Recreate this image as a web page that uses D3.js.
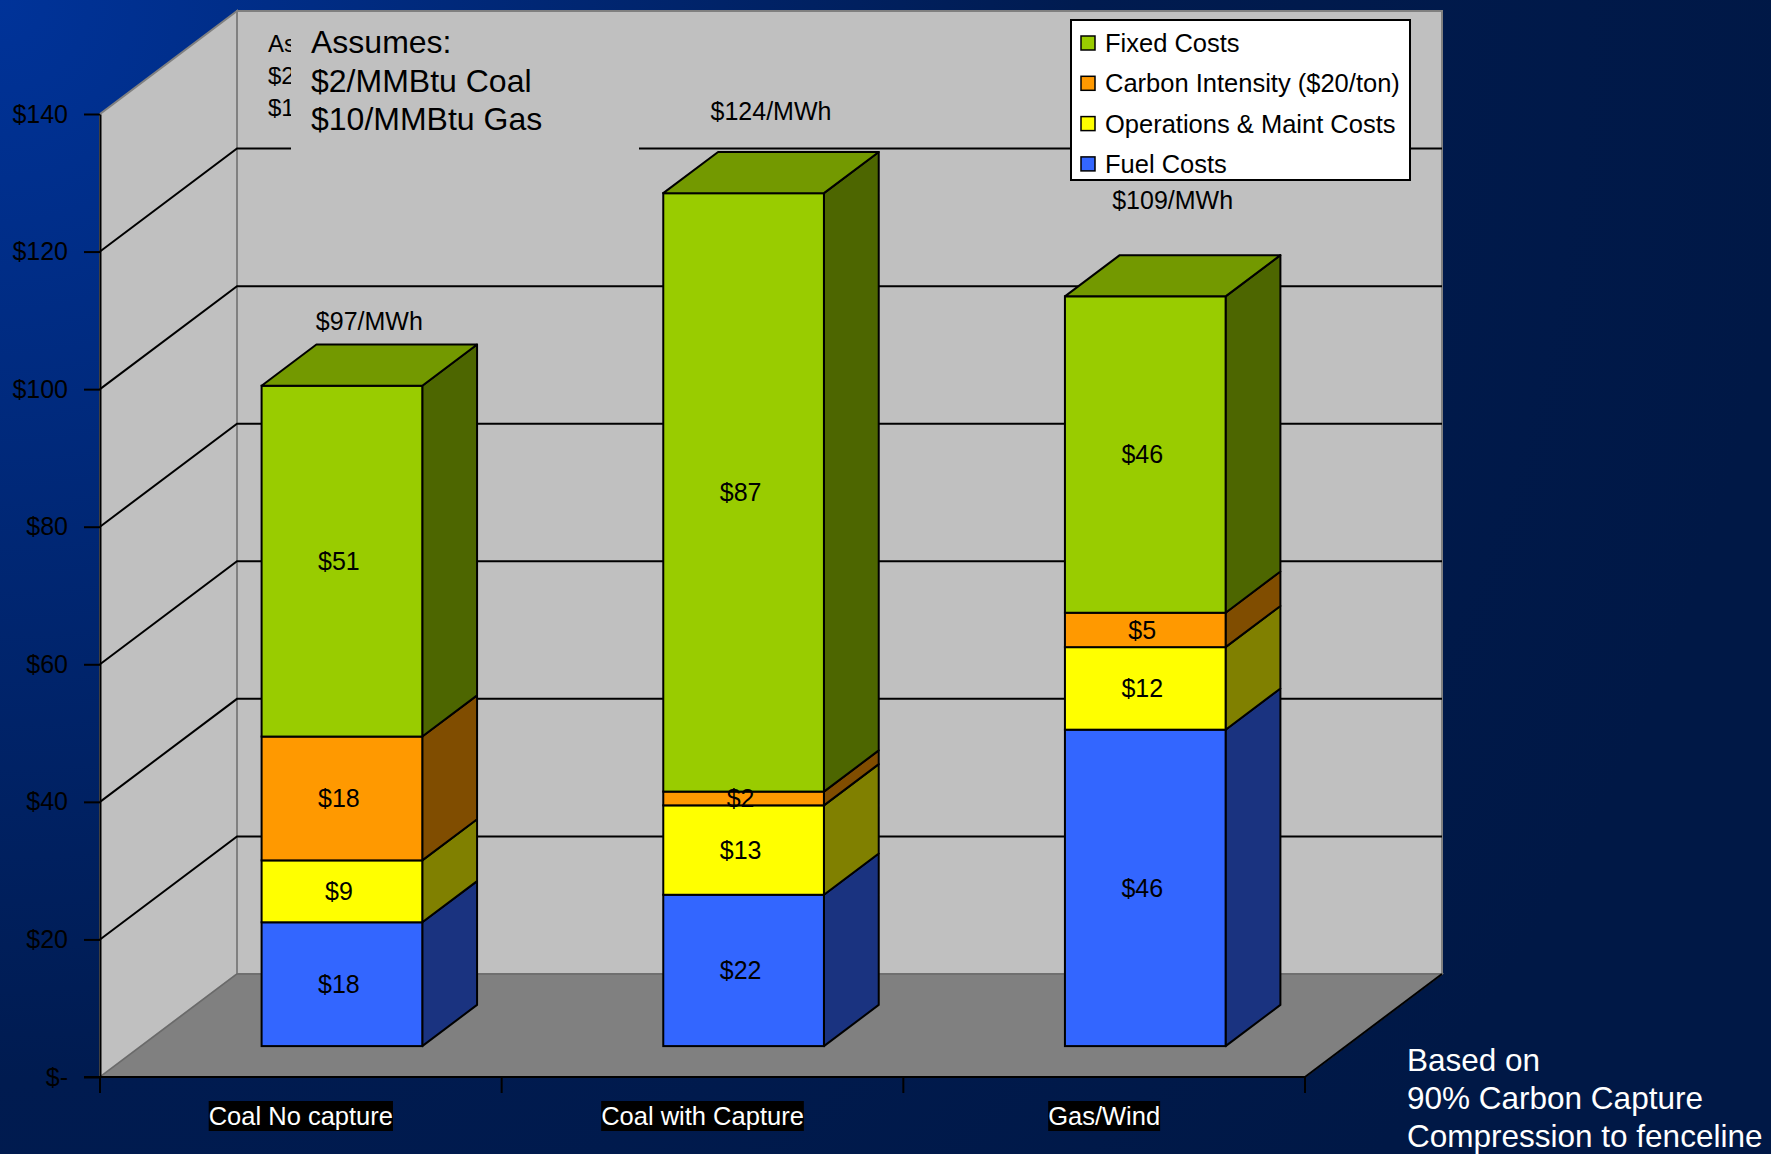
<!DOCTYPE html>
<html>
<head>
<meta charset="utf-8">
<script src="https://cdn.jsdelivr.net/npm/d3@7"></script>
<style>
    body { margin: 0; padding: 0; overflow: hidden; }
    svg { display: block; font-family: Arial, 'Liberation Sans', sans-serif; }
</style>
</head>
<body>
<div id="main"></div>
<script>
// chart values
var categories = ['Coal No capture', 'Coal with Capture', 'Gas/Wind'];
var seriesNames = ['Fuel Costs', 'Operations & Maint Costs', 'Carbon Intensity ($20/ton)', 'Fixed Costs'];
var fuelCosts = [18, 22, 46];
var omCosts = [9, 13, 12];
var carbonCosts = [18, 2, 5];
var fixedCosts = [51, 87, 46];
var totalLabels = ['$97/MWh', '$124/MWh', '$109/MWh'];
var yTicks = [0, 20, 40, 60, 80, 100, 120, 140];
var assumeLines = ['Assumes:', '$2/MMBtu Coal', '$10/MMBtu Gas'];
var noteLines = ['Based on', '90% Carbon Capture', 'Compression to fenceline'];

var seriesValues = [fuelCosts, omCosts, carbonCosts, fixedCosts];
var frontColors = ['#3366FF', '#FFFF00', '#FF9900', '#99CC00'];
var sideColors = ['#1A3380', '#808000', '#804D00', '#4D6600'];
var topColors = ['#264DBF', '#BFBF00', '#BF7300', '#739900'];
var totalRaise = [15, 32, 46];      // text boxes were placed by hand over each bar

var W = 1771, H = 1154;
var depth = {dx: 137, dy: -103};   // full depth of the floor
var barZ0 = 0.3, barZ1 = 0.7;       // bar sits in the middle of the depth

var svg = d3.select('#main').append('svg')
    .attr('width', W)
    .attr('height', H);

var defs = svg.append('defs');
var grad = defs.append('radialGradient')
    .attr('id', 'bg')
    .attr('gradientUnits', 'userSpaceOnUse')
    .attr('cx', 0).attr('cy', 0).attr('r', 1800);
grad.append('stop').attr('offset', '0').attr('stop-color', '#003399');
grad.append('stop').attr('offset', '0.6').attr('stop-color', '#001B50');
grad.append('stop').attr('offset', '1').attr('stop-color', '#001846');

svg.append('rect')
    .attr('width', W).attr('height', H)
    .attr('fill', 'url(#bg)');

var x = d3.scaleBand()
    .domain(categories)
    .range([100, 1305]);

var y = d3.scaleLinear()
    .domain([0, 140])
    .range([1077, 114]);

function pts(list) {
    return list.map(function (p) { return p[0] + ',' + p[1]; }).join(' ');
}

var x0 = x.range()[0], x1 = x.range()[1];
var yTop = y(140), yBot = y(0);

// walls and floor
var g = svg.append('g');
g.append('polygon')
    .attr('points', pts([[x0, yBot], [x0, yTop], [x0 + depth.dx, yTop + depth.dy], [x0 + depth.dx, yBot + depth.dy]]))
    .attr('fill', '#C0C0C0').attr('stroke', '#808080').attr('stroke-width', 2);
g.append('polygon')
    .attr('points', pts([[x0 + depth.dx, yTop + depth.dy], [x1 + depth.dx, yTop + depth.dy],
        [x1 + depth.dx, yBot + depth.dy], [x0 + depth.dx, yBot + depth.dy]]))
    .attr('fill', '#C0C0C0').attr('stroke', '#808080').attr('stroke-width', 2);
g.append('polygon')
    .attr('points', pts([[x0, yBot], [x0 + depth.dx, yBot + depth.dy], [x1 + depth.dx, yBot + depth.dy], [x1, yBot]]))
    .attr('fill', '#808080').attr('stroke', '#6a6a6a').attr('stroke-width', 1.5);
g.append('line')
    .attr('x1', x1).attr('y1', yBot)
    .attr('x2', x1 + depth.dx).attr('y2', yBot + depth.dy)
    .attr('stroke', 'black').attr('stroke-width', 2);

// gridlines: across the side wall, then across the back wall
var grid = yTicks.filter(function (v) { return v > 0 && v < 140; });
g.selectAll('.grid')
    .data(grid)
    .enter()
    .append('polyline')
    .attr('class', 'grid')
    .attr('fill', 'none')
    .attr('stroke', 'black')
    .attr('stroke-width', 2)
    .attr('points', function (v) {
        return pts([[x0, y(v)], [x0 + depth.dx, y(v) + depth.dy], [x1 + depth.dx, y(v) + depth.dy]]);
    });

// text box on the back wall; only the start of an older copy peeks out behind it
defs.append('clipPath').attr('id', 'oldClip')
    .append('rect').attr('x', 0).attr('y', 0).attr('width', 291).attr('height', 200);
var oldText = svg.append('g').attr('clip-path', 'url(#oldClip)');
assumeLines.forEach(function (t, i) {
    oldText.append('text')
        .attr('x', 268).attr('y', 52 + i * 32)
        .attr('font-size', '24px')
        .attr('fill', 'black')
        .text(t.slice(0, 2));
});
svg.append('rect')
    .attr('x', 291).attr('y', 18)
    .attr('width', 348).attr('height', 148)
    .attr('fill', '#C0C0C0');
assumeLines.forEach(function (t, i) {
    svg.append('text')
        .attr('x', 311).attr('y', 53 + i * 38.5)
        .attr('font-size', '32px')
        .attr('fill', 'black')
        .text(t);
});

// axes
var yAxisCall = d3.axisLeft(y)
    .tickValues(yTicks)
    .tickSize(16)
    .tickSizeOuter(0)
    .tickPadding(16)
    .tickFormat(function (v) { return v === 0 ? '$-' : '$' + v; });
var yAxis = svg.append('g')
    .attr('class', 'y-axis')
    .attr('transform', 'translate(' + x0 + ',0)')
    .call(yAxisCall);
yAxis.select('.domain').attr('stroke', 'black').attr('stroke-width', 2);
yAxis.selectAll('line').attr('stroke', 'black').attr('stroke-width', 2);
yAxis.selectAll('text')
    .attr('font-size', '25px')
    .attr('font-family', 'Arial, Liberation Sans, sans-serif')
    .attr('fill', 'black');

svg.append('line')
    .attr('x1', x0 - 16).attr('y1', yBot)
    .attr('x2', x1).attr('y2', yBot)
    .attr('stroke', 'black').attr('stroke-width', 2);
var catTicks = categories.map(function (c) { return x(c); }).concat([x1]);
svg.selectAll('.xtick')
    .data(catTicks)
    .enter()
    .append('line')
    .attr('class', 'xtick')
    .attr('x1', function (d) { return d; })
    .attr('x2', function (d) { return d; })
    .attr('y1', yBot)
    .attr('y2', yBot + 16)
    .attr('stroke', 'black').attr('stroke-width', 2);

categories.forEach(function (c) {
    var cx = x(c) + x.bandwidth() / 2;
    var bg = svg.append('rect').attr('fill', 'black');
    var t = svg.append('text')
        .attr('x', cx).attr('y', 1125)
        .attr('text-anchor', 'middle')
        .attr('font-size', '25.5px')
        .attr('fill', 'white')
        .text(c);
    var bb = t.node().getBBox();
    bg.attr('x', bb.x).attr('y', 1101).attr('width', bb.width).attr('height', 30);
});

// bars
var bw = x.bandwidth() / 2.5;
var bdx = (barZ1 - barZ0) * depth.dx, bdy = (barZ1 - barZ0) * depth.dy;
var bars = svg.append('g');

categories.forEach(function (c, ci) {
    var bx = x(c) + (x.bandwidth() - bw) / 2 + barZ0 * depth.dx;
    var base = 0;
    var segs = seriesValues.map(function (vals, si) {
        var s = {si: si, v: vals[ci], lo: base, hi: base + vals[ci]};
        base += vals[ci];
        return s;
    });
    segs.forEach(function (s) {
        var yt = y(s.hi) + barZ0 * depth.dy, yb = y(s.lo) + barZ0 * depth.dy;
        bars.append('polygon')
            .attr('points', pts([[bx + bw, yb], [bx + bw, yt], [bx + bw + bdx, yt + bdy], [bx + bw + bdx, yb + bdy]]))
            .attr('fill', sideColors[s.si]).attr('stroke', 'black').attr('stroke-width', 2)
            .attr('stroke-linejoin', 'round');
        bars.append('rect')
            .attr('x', bx).attr('y', yt)
            .attr('width', bw).attr('height', yb - yt)
            .attr('fill', frontColors[s.si]).attr('stroke', 'black').attr('stroke-width', 2);
    });
    var last = segs[segs.length - 1];
    var ytop = y(last.hi) + barZ0 * depth.dy;
    bars.append('polygon')
        .attr('points', pts([[bx, ytop], [bx + bdx, ytop + bdy], [bx + bw + bdx, ytop + bdy], [bx + bw, ytop]]))
        .attr('fill', topColors[last.si]).attr('stroke', 'black').attr('stroke-width', 2)
        .attr('stroke-linejoin', 'round');

    segs.forEach(function (s) {
        var ym = (y(s.hi) + y(s.lo)) / 2 + barZ0 * depth.dy;
        bars.append('text')
            .attr('x', bx + bw / 2 - 3).attr('y', ym)
            .attr('dy', '0.35em')
            .attr('text-anchor', 'middle')
            .attr('font-size', '25px')
            .attr('fill', 'black')
            .text('$' + s.v);
    });

    bars.append('text')
        .attr('x', bx + bw / 2 + bdx / 2)
        .attr('y', ytop + bdy - totalRaise[ci])
        .attr('text-anchor', 'middle')
        .attr('font-size', '25px')
        .attr('fill', 'black')
        .text(totalLabels[ci]);
});

// legend
var legend = svg.append('g').attr('transform', 'translate(1071,20)');
legend.append('rect')
    .attr('width', 339).attr('height', 160)
    .attr('fill', 'white').attr('stroke', 'black').attr('stroke-width', 2);
var legendOrder = [3, 2, 1, 0];
legendOrder.forEach(function (si, i) {
    var ly = 23 + i * 40.3;
    legend.append('rect')
        .attr('x', 10).attr('y', ly - 7)
        .attr('width', 14).attr('height', 14)
        .attr('fill', frontColors[si]).attr('stroke', 'black').attr('stroke-width', 1.5);
    legend.append('text')
        .attr('x', 34).attr('y', ly)
        .attr('dy', '0.35em')
        .attr('font-size', '25.5px')
        .attr('fill', 'black')
        .text(seriesNames[si]);
});

// note at the bottom right
noteLines.forEach(function (t, i) {
    svg.append('text')
        .attr('x', 1407).attr('y', 1071 + i * 38)
        .attr('font-size', '31.5px')
        .attr('fill', 'white')
        .text(t);
});
</script>
</body>
</html>
